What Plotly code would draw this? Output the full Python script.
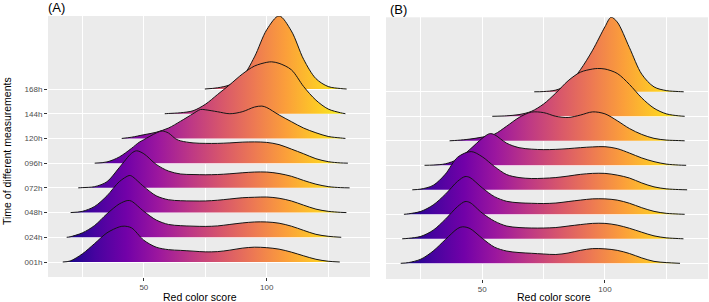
import plotly.graph_objects as go

# ---------------- data ----------------
ROWS = ["001h", "024h", "048h", "072h", "096h", "120h", "144h", "168h"]
X_TICKS = [50, 100]
X_MINOR = [25, 75, 125]

# Panel A: ridge x positions and ridge heights (in row units)
A_X = {
    "001h": [17, 20, 25, 30, 35, 40, 42, 45, 50, 55, 60, 65, 70, 75, 80, 85, 90, 95, 100, 105, 110, 115, 120, 125, 129.7],
    "024h": [18.6, 20, 25, 30, 35, 40, 43.5, 45, 50, 55, 60, 65, 70, 75, 80, 85, 90, 95, 100, 105, 110, 115, 120, 125, 130.3],
    "048h": [20.2, 25, 30, 35, 40, 44, 45, 50, 55, 60, 65, 70, 75, 80, 85, 90, 95, 100, 105, 110, 115, 120, 125, 130, 132.4],
    "072h": [23.3, 25, 30, 35, 40, 45, 47, 50, 55, 60, 65, 70, 75, 80, 85, 90, 95, 100, 105, 110, 115, 120, 125, 130, 133.7],
    "096h": [30, 35, 40, 45, 48, 50, 55, 57.5, 60, 63, 65, 70, 75, 80, 85, 90, 95, 100, 105, 110, 115, 120, 125, 130, 133],
    "120h": [41, 45, 50, 55, 60, 65, 70, 73, 75, 80, 85, 90, 95, 98, 100, 105, 110, 115, 120, 125, 130, 132],
    "144h": [58.5, 60, 65, 70, 75, 80, 85, 90, 95, 100, 102, 105, 110, 115, 120, 125, 130, 132],
    "168h": [74.8, 80, 85, 90, 95, 100, 105, 110, 115, 120, 125, 130, 132.5],
}
A_H = {
    "001h": [0, 0.04, 0.33, 0.75, 1.18, 1.42, 1.45, 1.38, 0.88, 0.6, 0.5, 0.47, 0.44, 0.41, 0.42, 0.48, 0.56, 0.6, 0.58, 0.52, 0.4, 0.25, 0.11, 0.03, 0],
    "024h": [0, 0.02, 0.18, 0.48, 0.95, 1.35, 1.49, 1.46, 1.05, 0.7, 0.52, 0.47, 0.45, 0.44, 0.46, 0.52, 0.58, 0.62, 0.62, 0.57, 0.45, 0.28, 0.12, 0.04, 0],
    "048h": [0, 0.05, 0.25, 0.68, 1.25, 1.5, 1.48, 1.05, 0.68, 0.52, 0.48, 0.47, 0.47, 0.5, 0.55, 0.6, 0.62, 0.63, 0.58, 0.47, 0.3, 0.14, 0.05, 0.01, 0],
    "072h": [0, 0.01, 0.05, 0.25, 0.82, 1.4, 1.5, 1.38, 0.95, 0.68, 0.56, 0.54, 0.53, 0.54, 0.57, 0.61, 0.64, 0.64, 0.58, 0.47, 0.3, 0.15, 0.05, 0.01, 0],
    "096h": [0, 0.05, 0.25, 0.6, 0.84, 0.95, 1.22, 1.3, 1.22, 0.98, 0.9, 0.82, 0.8, 0.8, 0.82, 0.85, 0.86, 0.84, 0.75, 0.57, 0.38, 0.18, 0.06, 0.01, 0],
    "120h": [0, 0.05, 0.15, 0.25, 0.42, 0.7, 1.0, 1.17, 1.16, 1.08, 1.0, 1.08, 1.27, 1.31, 1.25, 0.95, 0.68, 0.42, 0.23, 0.08, 0.02, 0],
    "144h": [0, 0.01, 0.04, 0.12, 0.38, 0.78, 1.18, 1.6, 1.93, 2.08, 2.1, 2.04, 1.78, 1.1, 0.55, 0.19, 0.04, 0],
    "168h": [0, 0.05, 0.17, 0.48, 1.3, 2.4, 2.96, 2.35, 1.2, 0.42, 0.1, 0.02, 0],
}

# Panel B
B_X = {
    "001h": [16.8, 20, 25, 30, 35, 40, 42, 45, 50, 55, 60, 65, 70, 75, 80, 85, 90, 95, 100, 105, 110, 115, 120, 125, 130.6],
    "024h": [17.4, 20, 25, 30, 35, 40, 43, 45, 50, 55, 60, 65, 70, 75, 80, 85, 90, 95, 100, 105, 110, 115, 120, 125, 130, 132],
    "048h": [18.1, 20, 25, 30, 35, 40, 43, 45, 50, 55, 60, 65, 70, 75, 80, 85, 90, 95, 100, 105, 110, 115, 120, 125, 130, 132.5],
    "072h": [21.5, 25, 30, 35, 40, 45.5, 50, 55, 60, 65, 70, 75, 80, 85, 90, 95, 100, 105, 110, 115, 120, 125, 130, 133.5],
    "096h": [26.5, 30, 35, 40, 45, 50, 53, 55, 60, 65, 70, 75, 80, 85, 90, 95, 100, 105, 110, 115, 120, 125, 130, 133.1],
    "120h": [36.7, 40, 45, 50, 55, 60, 65, 70, 75, 80, 85, 90, 95, 100, 105, 110, 115, 120, 125, 130, 132.5],
    "144h": [54.1, 60, 65, 70, 75, 80, 85, 90, 95, 97, 100, 105, 110, 115, 120, 125, 130, 132.5],
    "168h": [71.2, 75, 80, 85, 90, 95, 100, 102.5, 105, 110, 115, 120, 125, 130, 132.1],
}
B_H = {
    "001h": [0, 0.03, 0.17, 0.5, 0.97, 1.42, 1.49, 1.42, 1.02, 0.66, 0.5, 0.44, 0.41, 0.38, 0.36, 0.42, 0.53, 0.6, 0.59, 0.53, 0.4, 0.22, 0.08, 0.03, 0],
    "024h": [0, 0.02, 0.1, 0.35, 0.8, 1.32, 1.52, 1.48, 1.05, 0.72, 0.52, 0.46, 0.44, 0.44, 0.46, 0.52, 0.58, 0.63, 0.63, 0.56, 0.43, 0.27, 0.12, 0.04, 0.01, 0],
    "048h": [0, 0.02, 0.12, 0.38, 0.82, 1.35, 1.54, 1.5, 1.08, 0.72, 0.53, 0.47, 0.45, 0.44, 0.46, 0.52, 0.58, 0.63, 0.63, 0.58, 0.45, 0.27, 0.12, 0.04, 0.01, 0],
    "072h": [0, 0.03, 0.18, 0.64, 1.33, 1.56, 1.35, 0.95, 0.62, 0.5, 0.46, 0.47, 0.5, 0.56, 0.63, 0.67, 0.67, 0.6, 0.48, 0.28, 0.12, 0.04, 0.01, 0],
    "096h": [0, 0.01, 0.06, 0.25, 0.65, 1.1, 1.29, 1.25, 0.9, 0.72, 0.66, 0.64, 0.65, 0.68, 0.72, 0.75, 0.76, 0.68, 0.5, 0.3, 0.15, 0.05, 0.01, 0],
    "120h": [0, 0.02, 0.07, 0.15, 0.27, 0.6, 0.95, 1.17, 1.15, 1.0, 0.95, 1.05, 1.18, 1.1, 0.82, 0.5, 0.26, 0.1, 0.03, 0.01, 0],
    "144h": [0, 0.02, 0.07, 0.2, 0.5, 0.95, 1.45, 1.8, 1.93, 1.95, 1.93, 1.75, 1.3, 0.75, 0.33, 0.1, 0.02, 0],
    "168h": [0, 0.01, 0.07, 0.3, 0.9, 1.7, 2.65, 3.04, 2.85, 1.8, 0.72, 0.2, 0.05, 0.01, 0],
}

# ---------------- figure ----------------
W, H = 709, 302
fig = go.Figure()

LINE_COLOR = "#151515"

def add_panel(XS, HS, xa, ya):
    lo = min(min(v) for v in XS.values())
    hi = max(max(v) for v in XS.values())
    # draw top row first so lower ridges overlap higher ones
    for i in reversed(range(len(ROWS))):
        lab = ROWS[i]
        base = i + 1
        xs = XS[lab]
        ys = [base + h for h in HS[lab]]
        fig.add_trace(go.Scatter(
            x=[xs[0], xs[-1]], y=[base, base], mode="lines",
            line=dict(width=0, color="rgba(0,0,0,0)"),
            xaxis=xa, yaxis=ya, hoverinfo="skip", showlegend=False))
        fig.add_trace(go.Scatter(
            x=xs, y=ys, mode="lines",
            line=dict(color=LINE_COLOR, width=1.0, shape="spline", smoothing=0.9),
            fill="tonexty",
            fillgradient=dict(type="horizontal", colorscale="Plasma", start=lo, stop=hi),
            xaxis=xa, yaxis=ya, name=lab, showlegend=False))

add_panel(A_X, A_H, "x", "y")
add_panel(B_X, B_H, "x2", "y2")

xcommon = dict(
    tickvals=X_TICKS, ticks="outside", ticklen=2.5, tickwidth=1, tickcolor="#333333",
    tickfont=dict(size=8, color="#4D4D4D"),
    showgrid=True, gridcolor="white", gridwidth=1.1,
    minor=dict(tickvals=X_MINOR, showgrid=True, gridcolor="white", gridwidth=0.5, ticks=""),
    zeroline=False, showline=False, fixedrange=True,
)
ycommon = dict(
    tickvals=list(range(1, len(ROWS) + 1)), ticktext=ROWS,
    showgrid=True, gridcolor="white", gridwidth=1.1,
    zeroline=False, showline=False, fixedrange=True,
)

fig.update_layout(
    width=W, height=H, margin=dict(l=0, r=0, t=0, b=0),
    paper_bgcolor="white", plot_bgcolor="#EBEBEB",
    font=dict(family="Liberation Sans, Arial, sans-serif", color="#4D4D4D", size=8),
    xaxis=dict(domain=[48 / W, 370 / W], range=[11, 142], anchor="y", **xcommon),
    yaxis=dict(domain=[(H - 277) / H, (H - 16) / H], range=[0.393, 10.955], anchor="x",
               ticks="outside", ticklen=3, tickwidth=1, tickcolor="#333333",
               tickfont=dict(size=8, color="#4D4D4D"), **ycommon),
    xaxis2=dict(domain=[386 / W, 708 / W], range=[10.8, 142], anchor="y2", **xcommon),
    yaxis2=dict(domain=[(H - 279) / H, (H - 17.3) / H], range=[0.36, 11.04], anchor="x2",
                showticklabels=False, ticks="", **ycommon),
)

ann = [
    dict(text="(A)", x=46 / W, y=1 - 7.5 / H, xanchor="left", yanchor="middle", font=dict(size=13, color="black")),
    dict(text="(B)", x=388 / W, y=1 - 9.5 / H, xanchor="left", yanchor="middle", font=dict(size=13, color="black")),
    dict(text="Red color score", x=200 / W, y=1 - 296.5 / H, xanchor="center", yanchor="middle", font=dict(size=10.5, color="black")),
    dict(text="Red color score", x=554 / W, y=1 - 296.5 / H, xanchor="center", yanchor="middle", font=dict(size=10.5, color="black")),
    dict(text="Time of different measurements", x=7 / W, y=1 - 151 / H, xanchor="center", yanchor="middle",
         textangle=-90, font=dict(size=10.5, color="black")),
]
for a in ann:
    a.update(xref="paper", yref="paper", showarrow=False)
fig.update_layout(annotations=ann)

fig.write_html("out.html")
